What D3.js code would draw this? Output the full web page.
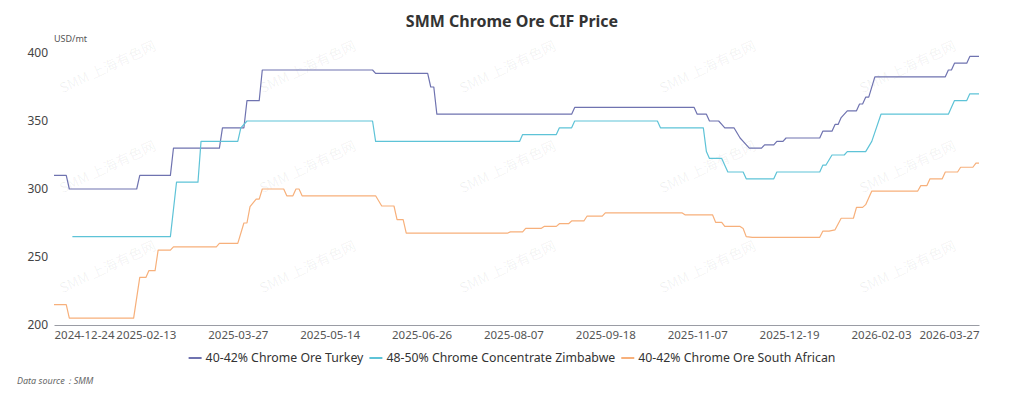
<!DOCTYPE html>
<html>
<head>
<meta charset="utf-8">
<script src="https://cdn.jsdelivr.net/npm/d3@7"></script>
<style>
  body { margin: 0; background: #fff; }
  svg { font-family: "Noto Sans", "Open Sans", sans-serif; }
</style>
</head>
<body>
<svg id="chart"></svg>
<script>
// x = trading-day index on the category axis, y = USD/mt
var tickIndex = [0, 30, 60, 90, 120, 150, 180, 210, 240, 270, 302];
var tickLabels = ["2024-12-24", "2025-02-13", "2025-03-27", "2025-05-14", "2025-06-26",
                  "2025-08-07", "2025-09-18", "2025-11-07", "2025-12-19", "2026-02-03", "2026-03-27"];
var yTicks = [200, 250, 300, 350, 400];

var seriesNames = ["40-42% Chrome Ore Turkey", "48-50% Chrome Concentrate Zimbabwe", "40-42% Chrome Ore South African"];
var seriesColors = ["#6f73b0", "#5ec3d7", "#f7b07b"];

var turkey = [[0,310],[4,310],[5,300],[27,300],[28,310],[38,310],[39,330],[54,330],[55,345],[62,345],[63,365],[67,365],
  [68,387.5],[104,387.5],[105,385],[122,385],[123,375],[124,375],[125,355],[169,355],[170,360],[209,360],[210,355],
  [213,355],[214,350],[217,350],[218,347.5],[219,345],[222,345],[224,337.5],[225,335],[227,330],[231,330],[232,332.5],
  [235,332.5],[236,335],[238,335],[239,337.5],[250,337.5],[251,342.5],[254,342.5],[255,347.5],[256,347.5],[257,352.5],
  [259,357.5],[262,357.5],[263,362.5],[264,362.5],[265,367.5],[266,367.5],[268,382.5],[291,382.5],[292,387.5],
  [293,387.5],[294,392.5],[298,392.5],[299,397.5],[302,397.5]];

var zimbabwe = [[6,265],[38,265],[40,305],[47,305],[48,335],[60,335],[61,345],[63,350],[104,350],[105,335],[152,335],
  [153,340],[164,340],[165,345],[169,345],[170,350],[197,350],[198,345],[212,345],[213,327.5],[214,322.5],[218,322.5],
  [220,312.5],[225,312.5],[226,307.5],[235,307.5],[236,312.5],[250,312.5],[251,317.5],[252,317.5],[254,325],[258,325],
  [259,327.5],[265,327.5],[267,335],[270,355],[292,355],[294,365],[298,365],[299,370],[302,370]];

var southAfrica = [[0,215],[4,215],[5,205],[26,205],[28,235],[30,235],[31,240],[33,240],[34,255],[38,255],[39,257.5],
  [53,257.5],[54,260],[60,260],[62,275],[63,275],[64,287],[66,292.5],[67,292.5],[68,300],[75,300],[76,295],[78,295],
  [79,300],[80,300],[81,295],[105,295],[107,287.5],[111,287.5],[112,277.5],[114,277.5],[115,267.5],[148,267.5],
  [149,268.5],[153,268.5],[154,271],[159,271],[160,272.5],[164,272.5],[165,274.5],[168,274.5],[169,276.5],[173,276.5],
  [174,280],[179,280],[180,282.5],[205,282.5],[206,281],[215,281],[216,275.5],[218,275.5],[219,272.5],[224,272.5],
  [225,271],[226,265],[228,264.5],[250,264.5],[251,269],[253,269],[255,270],[257,278.5],[261,278.5],[262,286.5],
  [264,286.5],[265,288.5],[267,298.5],[282,298.5],[283,302.5],[285,302.5],[286,307.5],[290,307.5],[291,312.5],
  [295,312.5],[296,316],[300,316],[301,319],[302,319]];

var width = 1024, height = 399;
var margin = { left: 54, right: 45, top: 53, bottom: 74 };

function createChart() {
  var svg = d3.select("#chart")
      .attr("width", width)
      .attr("height", height);

  // watermark
  var wm = svg.append("g").classed("watermark", true);
  [108, 308, 508, 708, 908].forEach(function(cx) {
    [68, 168, 268].forEach(function(cy) {
      wm.append("text")
          .attr("transform", "translate(" + cx + "," + cy + ") rotate(-25)")
          .attr("text-anchor", "middle")
          .attr("dominant-baseline", "middle")
          .attr("font-size", "14px")
          .attr("font-family", "'Noto Sans CJK SC', 'Noto Sans', sans-serif")
          .attr("fill", "#000")
          .attr("fill-opacity", 0.06)
          .text("SMM 上海有色网");
    });
  });

  svg.append("text")
      .attr("x", width / 2)
      .attr("y", 27)
      .attr("text-anchor", "middle")
      .attr("font-size", "16px")
      .attr("font-weight", "bold")
      .attr("fill", "#333")
      .text("SMM Chrome Ore CIF Price");

  svg.append("text")
      .attr("x", margin.left)
      .attr("y", 42)
      .attr("font-size", "9px")
      .attr("fill", "#555")
      .text("USD/mt");

  svg.append("text")
      .attr("x", 17)
      .attr("y", 384)
      .attr("font-size", "9px")
      .attr("font-style", "italic")
      .attr("fill", "#666")
      .text("Data source：SMM");

  svg.append("g").classed("lines", true);
  svg.append("g").classed("x-axis", true);
  svg.append("g").classed("y-axis", true);
  svg.append("g").classed("legend", true);
}

function drawChart() {
  var svg = d3.select("#chart");
  var allSeries = [turkey, zimbabwe, southAfrica];

  var x = d3.scaleLinear()
      .domain([0, tickIndex[tickIndex.length - 1]])
      .range([margin.left, width - margin.right]);

  var y = d3.scaleLinear()
      .domain([200, 400])
      .range([height - margin.bottom, margin.top]);

  // y axis: labels only
  var yAxis = svg.select(".y-axis")
      .attr("transform", "translate(" + margin.left + ",0)")
      .call(d3.axisLeft(y).tickValues(yTicks).tickSize(0).tickPadding(6));
  yAxis.select(".domain").remove();
  yAxis.selectAll("text")
      .attr("font-size", "12px")
      .attr("font-family", "'Noto Sans', sans-serif")
      .attr("fill", "#444");

  // x axis
  var xAxis = svg.select(".x-axis")
      .attr("transform", "translate(0," + y(200) + ")")
      .call(d3.axisBottom(x)
              .tickValues(tickIndex)
              .tickFormat(function(d, i) { return tickLabels[i]; })
              .tickSize(0)
              .tickPadding(6));
  xAxis.select(".domain").attr("stroke", "#9a9ca4");
  xAxis.selectAll("text")
      .attr("font-size", "11.5px")
      .attr("font-family", "'Noto Sans', sans-serif")
      .attr("fill", "#555")
      .attr("text-anchor", function(d, i) {
        return i === 0 ? "start" : (i === tickIndex.length - 1 ? "end" : "middle");
      });

  var line = d3.line()
      .x(function(d) { return x(d[0]); })
      .y(function(d) { return y(d[1]); });

  svg.select(".lines")
    .selectAll("path")
    .data(allSeries)
    .enter()
      .append("path")
      .attr("fill", "none")
      .attr("stroke", function(d, i) { return seriesColors[i]; })
      .attr("stroke-width", 1.2)
      .attr("stroke-linejoin", "round")
      .attr("d", line);

  // legend, centred
  var legend = svg.select(".legend");
  var items = legend.selectAll(".item")
      .data(seriesNames)
      .enter()
      .append("g")
      .classed("item", true);

  items.append("line")
      .attr("x1", 0).attr("x2", 13)
      .attr("y1", 0).attr("y2", 0)
      .attr("stroke", function(d, i) { return seriesColors[i]; })
      .attr("stroke-width", 2);

  items.append("text")
      .attr("x", 17)
      .attr("dy", "0.35em")
      .attr("font-size", "12.3px")
      .attr("fill", "#333")
      .text(function(d) { return d; });

  var offsets = [], total = 0;
  items.each(function() {
    var w = 17 + this.querySelector("text").getComputedTextLength();
    offsets.push(total);
    total += w + 6;
  });
  total -= 6;
  var start = width / 2 - total / 2;
  items.attr("transform", function(d, i) { return "translate(" + (start + offsets[i]) + ",358)"; });
}

createChart();
drawChart();
</script>
</body>
</html>
